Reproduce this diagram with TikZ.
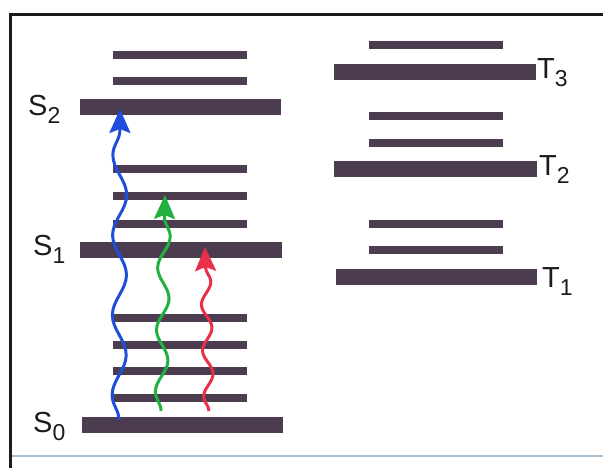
\documentclass[tikz,border=0pt]{standalone}
\usepackage{fontspec}
\setmainfont{Liberation Sans}
\usetikzlibrary{decorations.pathmorphing,arrows.meta}

\definecolor{bandfill}{RGB}{76,60,80}
\definecolor{inkdark}{RGB}{28,26,30}
\definecolor{framebot}{RGB}{170,190,210}
\definecolor{wblue}{RGB}{32,78,220}
\definecolor{wgreen}{RGB}{34,176,64}
\definecolor{wred}{RGB}{232,48,74}

% state label: letter with a lowered, slightly smaller index
\newcommand\statelabel[2]{#1{\fontsize{23}{23}\selectfont\raisebox{-8pt}{#2}}}

\begin{document}
\begin{tikzpicture}[x=1pt,y=-1pt,
  bandthick/.style={fill=bandfill, draw=none, inner sep=0pt, outer sep=0pt, minimum height=16pt},
  bandthin/.style={fill=bandfill, draw=none, inner sep=0pt, outer sep=0pt, minimum height=8pt, minimum width=134pt},
  lbl/.style={anchor=base west, inner sep=0pt, text=inkdark, font=\fontsize{29}{29}\selectfont},
  wave/.style={line width=3pt, decorate, -{Stealth[length=24pt,width=21pt,inset=4pt]}}
]
\useasboundingbox (0,0) rectangle (603,467);

% frame
\draw[line width=2pt, framebot] (10,456) -- (610,456);
\draw[line width=3pt, inkdark] (10,470) -- (10,14) -- (610,14);

% singlet manifold: vibrational sublevels
\foreach \y [count=\i] in {55,81,169,196,224,318,345,371,398}
  \node[bandthin] (sv\i) at (180,\y) {};
% singlet electronic levels
\node[bandthick, minimum width=201pt] (S2) at (180.5,107) {};
\node[bandthick, minimum width=202pt] (S1) at (181,250) {};
\node[bandthick, minimum width=201pt] (S0) at (182.5,425) {};

% triplet manifold
\foreach \y [count=\i] in {45,116,143,224,250}
  \node[bandthin] (tv\i) at (435.5,\y) {};
\node[bandthick, minimum width=202pt] (T3) at (435,72) {};
\node[bandthick, minimum width=203pt] (T2) at (435.5,169) {};
\node[bandthick, minimum width=201pt] (T1) at (436.5,277) {};

% labels
\node[lbl] (S2l) at (28,115) {\statelabel{S}{2}};
\node[lbl] (S1l) at (33,255) {\statelabel{S}{1}};
\node[lbl] (S0l) at (33,432) {\statelabel{S}{0}};
\node[lbl] (T3l) at (537,78) {\statelabel{T}{3}};
\node[lbl] (T2l) at (539,175) {\statelabel{T}{2}};
\node[lbl] (T1l) at (542,287) {\statelabel{T}{1}};

% absorption arrows
\coordinate (bA) at (119,420);
\coordinate (bB) at (120,109);
\coordinate (gA) at (161,411);
\coordinate (gB) at (165,195);
\coordinate (rA) at (209,411);
\coordinate (rB) at (205,247);

\draw[wave, wblue, decoration={snake, segment length=80pt, amplitude=7pt, post length=18pt}] (bA) -- (bB);
\draw[wave, wgreen, decoration={snake, segment length=62pt, amplitude=6pt, post length=18pt}] (gA) -- (gB);
\draw[wave, wred, decoration={snake, segment length=46pt, amplitude=5pt, post length=18pt}] (rA) -- (rB);
\end{tikzpicture}
\end{document}
